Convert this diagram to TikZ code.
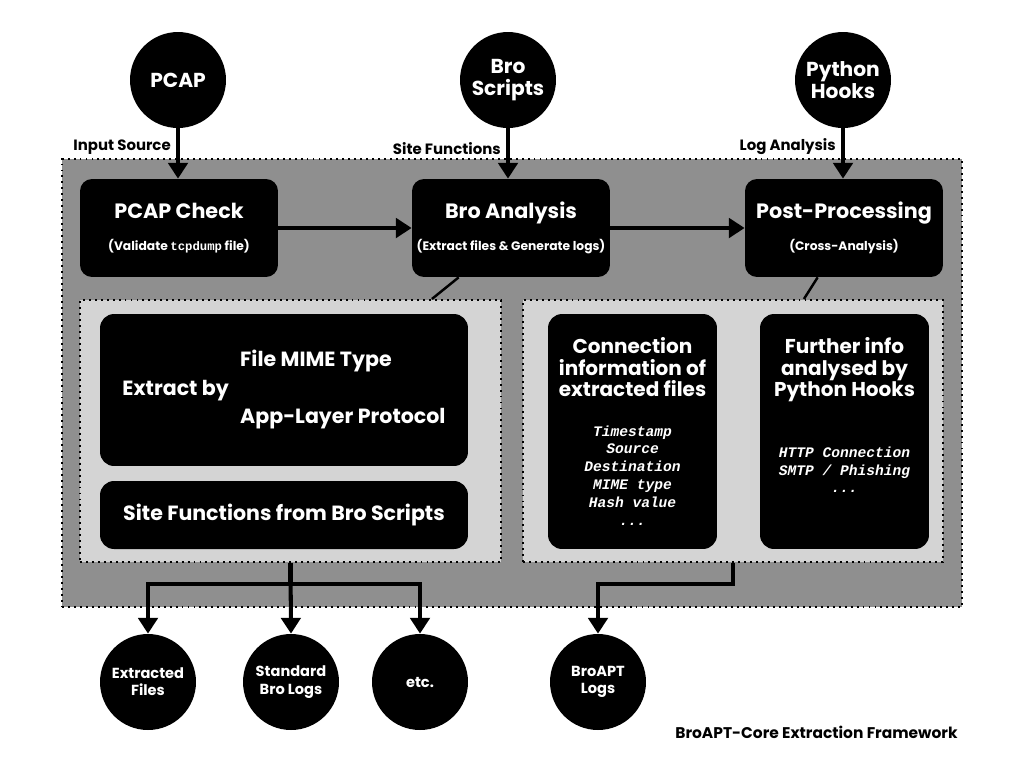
\documentclass[tikz,border=0pt]{standalone}
\usepackage{fontspec}
\setmainfont{Poppins}
\setmonofont{Liberation Mono}
\usetikzlibrary{arrows.meta,positioning}

\begin{document}
\begin{tikzpicture}[x=0.02cm, y=-0.02cm,
    srcnode/.style={circle, fill=black, text=white, minimum size=1.92cm, inner sep=0pt, align=center, font=\fontsize{11.5}{12.5}\selectfont\bfseries},
    sinknode/.style={circle, fill=black, text=white, minimum size=1.92cm, inner sep=0pt, align=center, font=\fontsize{8.3}{9.8}\selectfont\bfseries},
    stagebox/.style={fill=black, text=white, rounded corners=0.24cm, minimum width=3.96cm, minimum height=1.96cm, inner sep=0pt, align=center},
    detailbox/.style={fill=black, text=white, rounded corners=0.28cm, inner sep=0pt, align=center, font=\fontsize{11.4}{12.5}\selectfont\bfseries},
    dotframe/.style={draw=black, line width=1.2pt, dash pattern=on 1.1pt off 2.3pt, inner sep=0pt},
    arr/.style={line width=2.3pt, -{Triangle[width=11pt,length=9pt]}},
    plainline/.style={line width=1.4pt},
    flowlabel/.style={font=\fontsize{8.5}{10}\selectfont\bfseries, inner sep=1pt}
]
    % Define colors
    \definecolor{outergray}{RGB}{143,143,143}
    \definecolor{panelgray}{RGB}{212,212,212}

    \useasboundingbox (0,0) rectangle (1024,768);

    % Framework frame and panels
    \node[dotframe, fill=outergray, minimum width=18cm, minimum height=8.96cm] (core) at (512,383) {};
    \node[dotframe, fill=panelgray, minimum width=8.42cm, minimum height=5.24cm] (leftpanel) at (290.5,431) {};
    \node[dotframe, fill=panelgray, minimum width=8.4cm, minimum height=5.24cm] (rightpanel) at (733,431) {};

    % Sources
    \node[srcnode] (pcap) at (178,80) {PCAP};
    \node[srcnode] (broscripts) at (508,80) {Bro\\Scripts};
    \node[srcnode] (pyhooks) at (843,80) {Python\\Hooks};

    % Stages
    \node[stagebox] (pcapcheck) at (179,228) {{\fontsize{11.8}{13}\selectfont\bfseries PCAP Check}\\[6pt]{\fontsize{7}{8}\selectfont\bfseries (Validate \texttt{tcpdump} file)}};
    \node[stagebox] (broana) at (511,228) {{\fontsize{11.8}{13}\selectfont\bfseries Bro Analysis}\\[6pt]{\fontsize{7}{8}\selectfont\bfseries (Extract files \& Generate logs)}};
    \node[stagebox] (postproc) at (844,228) {{\fontsize{11.8}{13}\selectfont\bfseries Post-Processing}\\[6pt]{\fontsize{7}{8}\selectfont\bfseries (Cross-Analysis)}};

    % Details of Bro Analysis
    \node[detailbox, font=\fontsize{11.7}{13}\selectfont\bfseries, minimum width=7.36cm, minimum height=3.04cm] (extractby) at (284,390)
        {Extract by \begin{tabular}{@{\hspace{4pt}}l@{}}File MIME Type\\[19.5pt]App-Layer Protocol\end{tabular}};
    \node[detailbox, font=\fontsize{11.7}{13}\selectfont\bfseries, minimum width=7.36cm, minimum height=1.36cm] (sitefunc) at (284,515) {Site Functions from Bro Scripts};

    % Details of Post-Processing
    \node[detailbox] (conninfo) at (632.5,431.5) {\parbox[c][4.7cm][t]{3.38cm}{\centering\vspace*{0.46cm}
        Connection\\information of\\extracted files\par\vspace{12pt}
        {\fontsize{8.3}{10.2}\selectfont\ttfamily\bfseries\itshape Timestamp\\Source\\Destination\\MIME type\\Hash value\\...\par}}};
    \node[detailbox] (furtherinfo) at (844.5,431.5) {\parbox[c][4.7cm][t]{3.38cm}{\centering\vspace*{0.46cm}
        Further info\\analysed by\\Python Hooks\par\vspace{24pt}
        {\fontsize{8.3}{10.2}\selectfont\ttfamily\bfseries\itshape HTTP Connection\\SMTP / Phishing\\...\par}}};

    % Outputs
    \node[sinknode] (extracted) at (148,682) {Extracted\\Files};
    \node[sinknode] (stdlogs) at (291,682) {Standard\\Bro Logs};
    \node[sinknode] (etc) at (420,682) {etc.};
    \node[sinknode] (aptlogs) at (598,682) {BroAPT\\Logs};

    % Inputs into the stages
    \draw[arr] (pcap.south) -- (pcap.south |- pcapcheck.north)
        node[flowlabel, pos=0.6, anchor=south east, xshift=-2pt] {Input Source};
    \draw[arr] (broscripts.south) -- (broscripts.south |- broana.north)
        node[flowlabel, pos=0.6, anchor=south east, xshift=-2pt] {Site Functions};
    \draw[arr] (pyhooks.south) -- (pyhooks.south |- postproc.north)
        node[flowlabel, pos=0.6, anchor=south east, xshift=-2pt] {Log Analysis};

    % Stage to stage
    \draw[arr] (pcapcheck) -- (broana);
    \draw[arr] (broana) -- (postproc);

    % Stage to panel
    \draw[plainline] ([xshift=0.94cm]broana.south west) -- ([xshift=7.06cm]leftpanel.north west);
    \draw[plainline] ([xshift=1.46cm]postproc.south west) -- ([xshift=5.64cm]rightpanel.north west);

    % Panels to outputs
    \draw[arr] (leftpanel.south) -- ++(0,21) -| (extracted.north);
    \draw[arr] (leftpanel.south) -- (stdlogs.north);
    \draw[arr] (leftpanel.south) -- ++(0,21) -| (etc.north);
    \draw[arr] (rightpanel.south) -- ++(0,21) -| (aptlogs.north);

    % Title
    \node[font=\fontsize{8.8}{10}\selectfont\bfseries, anchor=east, inner sep=0pt] (title) at (958,732) {BroAPT-Core Extraction Framework};
\end{tikzpicture}
\end{document}
